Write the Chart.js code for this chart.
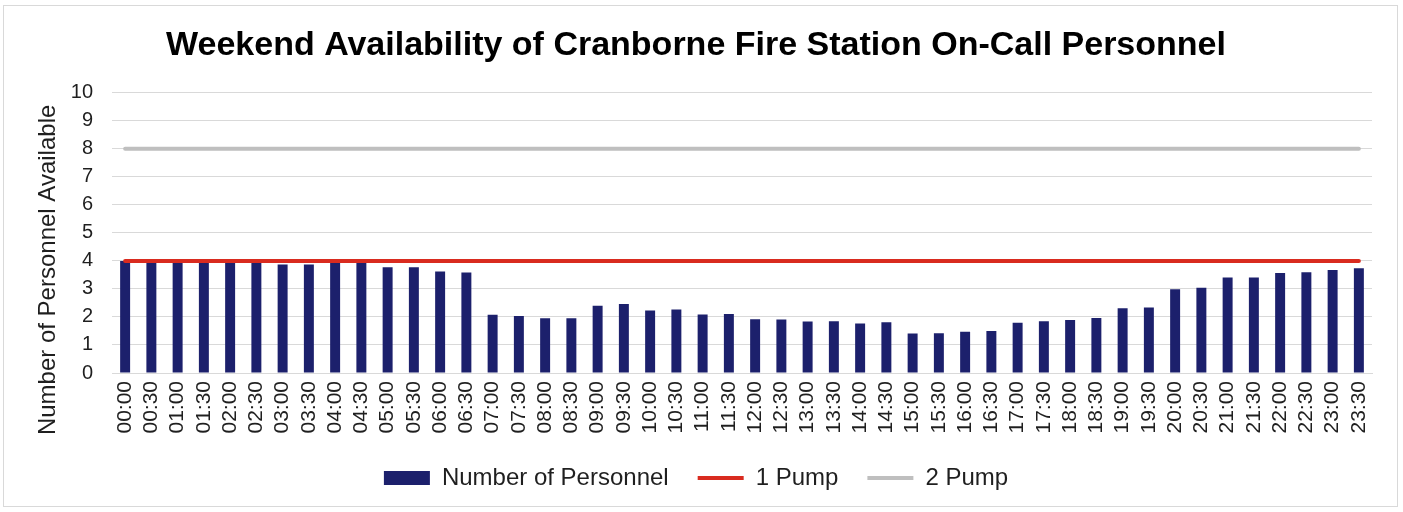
<!DOCTYPE html>
<html>
<head>
<meta charset="utf-8">
<script src="https://cdn.jsdelivr.net/npm/chart.js@4"></script>
<style>
body{margin:0;background:#fff;}
#wrap{position:relative;width:1403px;height:512px;}
#frame{position:absolute;left:3px;top:5px;width:1395px;height:502px;border:1px solid #d9d9d9;box-sizing:border-box;}
#box{position:absolute;left:0;top:0;width:1403px;height:512px;}
</style>
</head>
<body>
<div id="wrap">
<div id="frame"></div>
<div id="box"><canvas id="availChart"></canvas></div>
</div>
<script>
// half-hour slots across the weekend day
const timeSlots = [
"00:00","00:30","01:00","01:30","02:00","02:30","03:00","03:30",
"04:00","04:30","05:00","05:30","06:00","06:30","07:00","07:30",
"08:00","08:30","09:00","09:30","10:00","10:30","11:00","11:30",
"12:00","12:30","13:00","13:30","14:00","14:30","15:00","15:30",
"16:00","16:30","17:00","17:30","18:00","18:30","19:00","19:30",
"20:00","20:30","21:00","21:30","22:00","22:30","23:00","23:30"
];

const personnel = [
4.00,3.97,3.97,3.97,3.97,3.97,3.87,3.87,
3.95,3.95,3.77,3.77,3.62,3.59,2.08,2.03,
1.95,1.95,2.40,2.46,2.23,2.27,2.09,2.11,
1.92,1.91,1.84,1.85,1.77,1.81,1.41,1.42,
1.47,1.50,1.79,1.85,1.89,1.96,2.31,2.34,
2.99,3.04,3.41,3.41,3.57,3.60,3.68,3.74
];

const onePump = [
4,4,4,4,4,4,4,4,4,4,4,4,4,4,4,4,
4,4,4,4,4,4,4,4,4,4,4,4,4,4,4,4,
4,4,4,4,4,4,4,4,4,4,4,4,4,4,4,4
];

const twoPump = [
8,8,8,8,8,8,8,8,8,8,8,8,8,8,8,8,
8,8,8,8,8,8,8,8,8,8,8,8,8,8,8,8,
8,8,8,8,8,8,8,8,8,8,8,8,8,8,8,8
];

const yTicks = [0,1,2,3,4,5,6,7,8,9,10];

const FONT = "'Liberation Sans', Arial, sans-serif";
const TEXT = "#1f1f1f";
const Y_TITLE = "Number of Personnel Available";

// y axis title sits a bit below the plot middle, like the original
const yTitlePlugin = {
  id: "yTitle",
  afterDraw(chart) {
    const c = chart.ctx;
    const area = chart.chartArea;
    c.save();
    c.translate(48, (area.top + area.bottom) / 2 + 37);
    c.rotate(-Math.PI / 2);
    c.textAlign = "center";
    c.textBaseline = "middle";
    c.fillStyle = TEXT;
    c.font = "24px " + FONT;
    c.fillText(Y_TITLE, 0, 0);
    c.restore();
  }
};

const ctx = document.getElementById("availChart");

new Chart(ctx, {
  type: "bar",
  data: {
    labels: timeSlots,
    datasets: [
      {
        label: "Number of Personnel",
        data: personnel,
        backgroundColor: "#1c206c",
        borderWidth: 0,
        barPercentage: 0.38,
        categoryPercentage: 1,
        pointStyle: "rect",
        order: 3
      },
      {
        type: "line",
        label: "1 Pump",
        data: onePump,
        borderColor: "#d92b1f",
        backgroundColor: "#d92b1f",
        borderWidth: 4,
        borderCapStyle: "round",
        pointRadius: 0,
        pointStyle: "line",
        order: 1
      },
      {
        type: "line",
        label: "2 Pump",
        data: twoPump,
        borderColor: "#bfbfbf",
        backgroundColor: "#bfbfbf",
        borderWidth: 4,
        borderCapStyle: "round",
        pointRadius: 0,
        pointStyle: "line",
        order: 2
      }
    ]
  },
  options: {
    responsive: true,
    maintainAspectRatio: false,
    animation: false,
    layout: {
      padding: {left: 20, right: 31, top: 0, bottom: 12}
    },
    plugins: {
      title: {
        display: true,
        text: "Weekend Availability of Cranborne Fire Station On-Call Personnel",
        color: "#000",
        font: {family: FONT, size: 34, weight: "bold"},
        padding: {top: 25, bottom: 27}
      },
      legend: {
        position: "bottom",
        labels: {
          usePointStyle: true,
          pointStyleWidth: 46,
          boxHeight: 14,
          padding: 29,
          color: TEXT,
          font: {family: FONT, size: 24},
          sort: (a, b) => a.datasetIndex - b.datasetIndex
        }
      },
      tooltip: {enabled: false}
    },
    scales: {
      x: {
        afterFit: (scale) => {
          scale.height = 64;
        },
        grid: {display: false, drawTicks: false},
        border: {display: true, color: "#d9d9d9", width: 1},
        ticks: {
          color: TEXT,
          font: {family: FONT, size: 21},
          minRotation: 90,
          maxRotation: 90,
          autoSkip: false,
          padding: 8
        }
      },
      y: {
        min: 0,
        max: 10,
        afterBuildTicks: (scale) => {
          scale.ticks = yTicks.map(v => ({value: v}));
        },
        afterFit: (scale) => {
          scale.width = 92;
        },
        grid: {color: "#d9d9d9", lineWidth: 1, drawTicks: false},
        border: {display: false},
        ticks: {
          color: TEXT,
          font: {family: FONT, size: 20},
          padding: 19
        }
      }
    }
  },
  plugins: [yTitlePlugin]
});
</script>
</body>
</html>
